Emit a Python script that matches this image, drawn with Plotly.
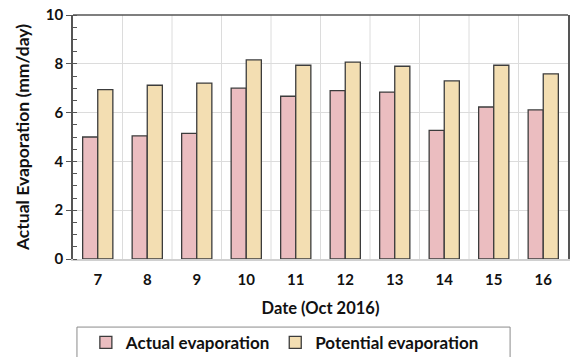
import plotly.graph_objects as go

dates = ["7", "8", "9", "10", "11", "12", "13", "14", "15", "16"]
actual = [5.0, 5.05, 5.15, 7.0, 6.67, 6.9, 6.84, 5.27, 6.23, 6.11]
potential = [6.94, 7.12, 7.21, 8.16, 7.94, 8.07, 7.9, 7.3, 7.94, 7.59]

FONT = "Lato"
fig = go.Figure()
fig.add_bar(x=dates, y=actual, name="Actual evaporation",
            marker=dict(color="#EBBDC0", line=dict(color="#3c3c3c", width=1.3)))
fig.add_bar(x=dates, y=potential, name="Potential evaporation",
            marker=dict(color="#F3DEB2", line=dict(color="#3c3c3c", width=1.3)))

fig.update_layout(
    width=571, height=357,
    margin=dict(l=73, r=3, t=15, b=98, autoexpand=False),
    plot_bgcolor="white", paper_bgcolor="white",
    barmode="group", bargap=0.39, bargroupgap=0,
    font=dict(family=FONT, size=15, color="#111"),
    showlegend=True,
    legend=dict(orientation="h", x=0.026, xanchor="left", y=-0.27, yanchor="top",
                borderwidth=0, bgcolor="rgba(0,0,0,0)",
                font=dict(family=FONT, size=17, color="#111", weight="bold"),
                itemwidth=30, tracegroupgap=0),
)
fig.update_xaxes(
    type="category", automargin=False,
    showgrid=False,
    showline=True, linecolor="#d0d0d0", linewidth=1.5,
    ticks="outside", ticklen=6, tickcolor="rgba(0,0,0,0)",
    tickfont=dict(family=FONT, size=15, weight="bold"),
    title=dict(text="Date (Oct 2016)", font=dict(family=FONT, size=16.5, weight="bold"), standoff=16),
)
fig.update_yaxes(
    range=[0, 10], dtick=2, automargin=False,
    showgrid=True, gridcolor="#dcdcdc", gridwidth=1,
    showline=True, linecolor="#555", linewidth=1.5, mirror=True,
    ticks="outside", ticklen=5, tickcolor="#555",
    minor=dict(dtick=0.5, ticks="inside", ticklen=4, tickcolor="#555", showgrid=False),
    zeroline=False,
    tickfont=dict(family=FONT, size=15, weight="bold"),
    title=dict(text="Actual Evaporation (mm/day)", font=dict(family=FONT, size=17.5, weight="bold"), standoff=12),
)
for i in range(len(dates) - 1):
    fig.add_vline(x=i + 0.5, line=dict(color="#dcdcdc", width=1), layer="below")
fig.add_shape(type="line", xref="paper", yref="paper", x0=0, x1=1, y0=1, y1=1,
              line=dict(color="#555", width=1.5))
fig.add_shape(type="rect", xref="paper", yref="paper", x0=0.008, x1=0.883, y0=-0.42, y1=-0.279,
              line=dict(color="#8a8a8a", width=1))

fig.write_html("out.html", config={"displayModeBar": False},
               post_script="document.body.style.margin='0';document.body.style.overflow='hidden';")
